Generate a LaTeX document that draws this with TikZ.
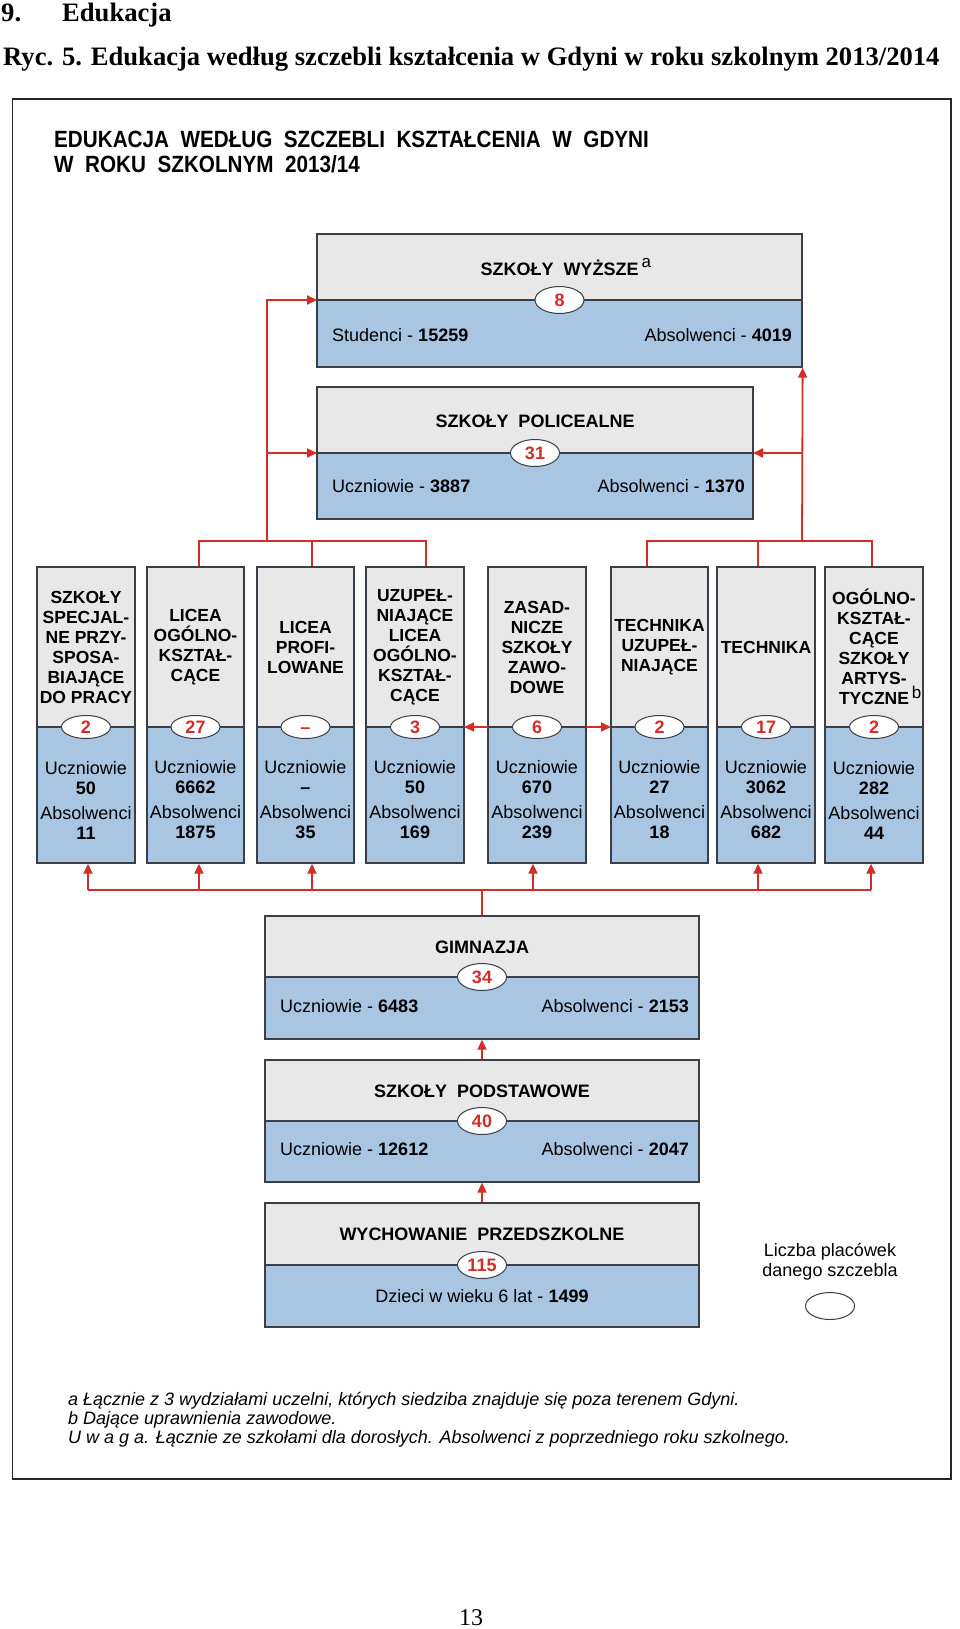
\documentclass[tikz,border=0pt]{standalone}
\usepackage{fontspec}
\setmainfont{Liberation Sans}
\newfontfamily\headserif{Liberation Serif}
\usetikzlibrary{arrows.meta,shapes.geometric}
\definecolor{boxgray}{RGB}{232,232,232}
\definecolor{boxblue}{RGB}{168,198,225}
\definecolor{edgegray}{RGB}{58,62,70}
\definecolor{linkred}{RGB}{212,45,38}
\tikzset{
  oval/.style={ellipse,draw=edgegray,line width=1pt,fill=white,minimum width=49pt,minimum height=23pt,inner sep=0pt,text=linkred,text height=13pt,text depth=0pt,font=\bfseries\fontsize{18}{18}\selectfont},
  bigoval/.style={oval,minimum height=27pt},
  link/.style={draw=linkred,line width=1.8pt},
  linkarrow/.style={link,-{Triangle[length=10pt,width=9pt]}},
  coltitle/.style={align=center,font=\bfseries\fontsize{17.5}{20}\selectfont,inner sep=0pt},
  colbody/.style={align=center,font=\fontsize{18}{20}\selectfont,inner sep=0pt},
  boxtitle/.style={anchor=base,font=\bfseries\fontsize{18}{20}\selectfont,inner sep=0pt},
  boxval/.style={font=\fontsize{18}{20}\selectfont,inner sep=0pt},
  headtext/.style={anchor=base west,font=\headserif\bfseries\fontsize{26.6}{28}\selectfont,inner sep=0pt},
  maintitle/.style={anchor=base west,font=\bfseries\fontsize{23.5}{26}\selectfont,inner sep=0pt},
  footnote/.style={anchor=base west,font=\itshape\fontsize{18}{19}\selectfont,inner sep=0pt},
}
% name, x1, y1, x2, y2, ysplit, number, oval style
\newcommand\edubox[8]{%
  \fill[boxgray] (#2,#3) rectangle (#4,#6);
  \fill[boxblue] (#2,#6) rectangle (#4,#5);
  \draw[edgegray,line width=1.3pt] (#2,#6) -- (#4,#6);
  \node[draw=edgegray,line width=1.3pt,inner sep=0pt,minimum width={(#4-#2)*1pt},minimum height={(#5-#3)*1pt}] (#1) at ({(#2+#4)/2},{(#3+#5)/2}) {};
  \coordinate (#1-l) at (#2,#6);
  \coordinate (#1-r) at (#4,#6);
  \node[#8] (#1-o) at ({(#2+#4)/2},#6) {#7};
}
% name, x1, x2, number, title, body
\newcommand\educol[6]{%
  \edubox{#1}{#2}{567}{#3}{863}{727}{#4}{oval}
  \node[coltitle] (#1-t) at ({(#2+#3)/2},647) {#5};
  \node[colbody] (#1-b) at ({(#2+#3)/2},800) {#6};
}
\begin{document}
\begin{tikzpicture}[x=1pt,y=-1pt]
\useasboundingbox (0,0) rectangle (960,1629);
\fill[white] (0,0) rectangle (960,1629);

% page heading
\node[headtext] (h1) at (1,21.5) {9.};
\node[headtext] (h2) at (62,21.5) {Edukacja};
\node[headtext] (h3) at (3,66) {Ryc. 5. Edukacja według szczebli kształcenia w Gdyni w roku szkolnym 2013/2014};

% frame
\draw[black!85,line width=1.8pt] (12.5,99) rectangle (951,1479);

\node[maintitle] (t1) at (54,148) {\scalebox{0.88}[1]{EDUKACJA\ \ WEDŁUG\ \ SZCZEBLI\ \ KSZTAŁCENIA\ \ W\ \ GDYNI}};
\node[maintitle] (t2) at (54,173) {\scalebox{0.88}[1]{W\ \ ROKU\ \ SZKOLNYM\ \ 2013/14}};

% higher levels
\edubox{wyz}{317}{234}{802}{367}{300}{8}{bigoval}
\node[boxtitle] (wyz-t) at (559.5,275) {SZKOŁY\ \ WYŻSZE\rlap{\mdseries\,\raisebox{7pt}{\fontsize{17}{17}\selectfont a}}};
\node[boxval,anchor=base west] (wyz-s) at (332,341.5) {Studenci - \textbf{15259}};
\node[boxval,anchor=base east] (wyz-a) at (792,341.5) {Absolwenci - \textbf{4019}};

\edubox{pol}{317}{387}{753}{519}{453}{31}{bigoval}
\node[boxtitle] (pol-t) at (535,427.5) {SZKOŁY\ \ POLICEALNE};
\node[boxval,anchor=base west] (pol-s) at (332,492.5) {Uczniowie - \textbf{3887}};
\node[boxval,anchor=base east] (pol-a) at (745,492.5) {Absolwenci - \textbf{1370}};

% columns
\educol{c1}{37}{135}{2}{SZKOŁY\\SPECJAL-\\NE PRZY-\\SPOSA-\\BIAJĄCE\\DO PRACY}{Uczniowie\\\textbf{50}\\[5pt]Absolwenci\\\textbf{11}}
\educol{c2}{147}{244}{27}{LICEA\\OGÓLNO-\\KSZTAŁ-\\CĄCE}{Uczniowie\\\textbf{6662}\\[5pt]Absolwenci\\\textbf{1875}}
\educol{c3}{257}{354}{–}{LICEA\\PROFI-\\LOWANE}{Uczniowie\\\textbf{–}\\[5pt]Absolwenci\\\textbf{35}}
\educol{c4}{366}{464}{3}{UZUPEŁ-\\NIAJĄCE\\LICEA\\OGÓLNO-\\KSZTAŁ-\\CĄCE}{Uczniowie\\\textbf{50}\\[5pt]Absolwenci\\\textbf{169}}
\educol{c5}{488}{586}{6}{ZASAD-\\NICZE\\SZKOŁY\\ZAWO-\\DOWE}{Uczniowie\\\textbf{670}\\[5pt]Absolwenci\\\textbf{239}}
\educol{c6}{611}{708}{2}{TECHNIKA\\UZUPEŁ-\\NIAJĄCE}{Uczniowie\\\textbf{27}\\[5pt]Absolwenci\\\textbf{18}}
\educol{c7}{717}{815}{17}{TECHNIKA}{Uczniowie\\\textbf{3062}\\[5pt]Absolwenci\\\textbf{682}}
\educol{c8}{825}{923}{2}{OGÓLNO-\\KSZTAŁ-\\CĄCE\\SZKOŁY\\ARTYS-\\TYCZNE\rlap{\mdseries\,\raisebox{6pt}{\fontsize{17}{17}\selectfont b}}}{Uczniowie\\\textbf{282}\\[5pt]Absolwenci\\\textbf{44}}

% lower levels
\edubox{gim}{265}{916}{699}{1039}{977}{34}{bigoval}
\node[boxtitle] (gim-t) at (482,953.5) {GIMNAZJA};
\node[boxval,anchor=base west] (gim-s) at (280,1012.5) {Uczniowie - \textbf{6483}};
\node[boxval,anchor=base east] (gim-a) at (689,1012.5) {Absolwenci - \textbf{2153}};

\edubox{pod}{265}{1060}{699}{1182}{1121}{40}{bigoval}
\node[boxtitle] (pod-t) at (482,1097.5) {SZKOŁY\ \ PODSTAWOWE};
\node[boxval,anchor=base west] (pod-s) at (280,1155.5) {Uczniowie - \textbf{12612}};
\node[boxval,anchor=base east] (pod-a) at (689,1155.5) {Absolwenci - \textbf{2047}};

\edubox{prz}{265}{1203}{699}{1327}{1265}{115}{bigoval}
\node[boxtitle] (prz-t) at (482,1240.5) {WYCHOWANIE\ \ PRZEDSZKOLNE};
\node[boxval,anchor=base] (prz-s) at (482,1302.5) {Dzieci w wieku 6 lat - \textbf{1499}};

% legend
\node[align=center,font=\fontsize{18}{20}\selectfont,inner sep=0pt] (leg-t) at (830,1262) {Liczba placówek\\danego szczebla};
\node[ellipse,draw=edgegray,line width=1pt,fill=white,minimum width=49pt,minimum height=27pt,inner sep=0pt] (leg-o) at (830,1306) {};

% connectors: upper left tree
\coordinate (lb1) at (199,541);
\coordinate (lb2) at (312,541);
\coordinate (lb3) at (426,541);
\coordinate (lv) at (267,541);
\draw[link] (lb1 |- c2.north) -- (lb1) -- (lb3) -- (lb3 |- c4.north);
\draw[link] (lb2) -- (lb2 |- c3.north);
\draw[linkarrow] (lv) |- (wyz-l);
\draw[linkarrow] (lv |- pol-l) -- (pol-l);

% connectors: upper right tree
\coordinate (rb1) at (647,541);
\coordinate (rb2) at (758,541);
\coordinate (rb3) at (872,541);
\coordinate (rv) at (802,541);
\draw[link] (rb1 |- c6.north) -- (rb1) -- (rb3) -- (rb3 |- c8.north);
\draw[link] (rb2) -- (rb2 |- c7.north);
\draw[linkarrow] (rv) -- (wyz.south east);
\draw[linkarrow] (rv |- pol-r) -- (pol-r);

% side arrows from zasadnicze
\draw[linkarrow] (c5-l) -- (c4-r);
\draw[linkarrow] (c5-r) -- (c6-l);

% lower bus
\coordinate (bb1) at (88,890);
\coordinate (bb2) at (199,890);
\coordinate (bb3) at (312,890);
\coordinate (bb5) at (533,890);
\coordinate (bb7) at (758,890);
\coordinate (bb8) at (871,890);
\draw[link] (bb1) -- (bb8);
\draw[link] (gim.north) -- (gim.north |- bb1);
\foreach \p/\c in {bb1/c1,bb2/c2,bb3/c3,bb5/c5,bb7/c7,bb8/c8}
  \draw[linkarrow] (\p) -- (\p |- \c.south);

\draw[linkarrow] (pod.north) -- (gim.south);
\draw[linkarrow] (prz.north) -- (pod.south);

% footnotes
\node[footnote] (f1) at (68,1405) {a Łącznie z 3 wydziałami uczelni, których siedziba znajduje się poza terenem Gdyni.};
\node[footnote] (f2) at (68,1424) {b Dające uprawnienia zawodowe.};
\node[footnote] (f3) at (68,1443) {U w a g a. Łącznie ze szkołami dla dorosłych. Absolwenci z poprzedniego roku szkolnego.};

% page number
\node[anchor=base,font=\headserif\fontsize{24}{26}\selectfont,inner sep=0pt] (pg) at (471,1625) {13};
\end{tikzpicture}
\end{document}
